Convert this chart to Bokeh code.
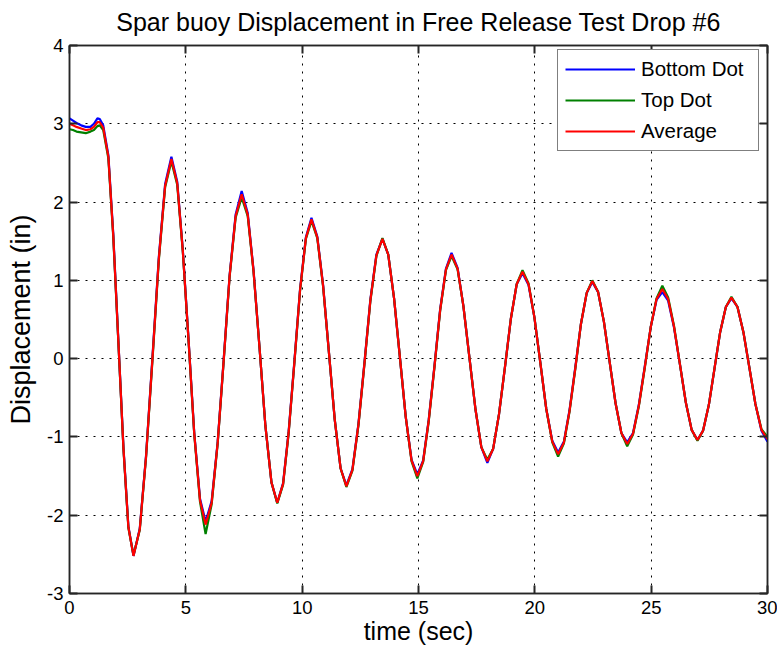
from bokeh.plotting import figure
from bokeh.models import (Range1d, FixedTicker, LinearAxis, Legend, LegendItem,
                          PrintfTickFormatter, CustomLabelingPolicy)
from bokeh.embed import file_html
from bokeh.resources import INLINE

# ---- data ----
time_s = [
    0.0, 0.15, 0.3, 0.5, 0.7, 0.9, 1.05, 1.2, 1.3,
    1.45, 1.67, 1.88, 2.10, 2.32, 2.53,
    2.75, 3.02, 3.29, 3.57, 3.84, 4.11,
    4.38, 4.63, 4.87, 5.12, 5.36, 5.61,
    5.85, 6.11, 6.37, 6.63, 6.88, 7.14,
    7.40, 7.66, 7.91, 8.17, 8.42, 8.68,
    8.93, 9.18, 9.42, 9.67, 9.91, 10.16,
    10.40, 10.65, 10.90, 11.15, 11.40, 11.65,
    11.90, 12.16, 12.42, 12.68, 12.93, 13.19,
    13.45, 13.70, 13.95, 14.20, 14.45, 14.70,
    14.95, 15.20, 15.44, 15.69, 15.93, 16.18,
    16.42, 16.68, 16.93, 17.19, 17.45, 17.70,
    17.96, 18.21, 18.46, 18.72, 18.97, 19.22,
    19.47, 19.73, 19.98, 20.24, 20.49, 20.75,
    21.00, 21.25, 21.49, 21.74, 21.98, 22.23,
    22.47, 22.72, 22.97, 23.22, 23.47, 23.72,
    23.97, 24.22, 24.47, 24.73, 24.98, 25.23,
    25.48, 25.73, 25.98, 26.24, 26.49, 26.74,
    26.99, 27.23, 27.48, 27.72, 27.96, 28.21,
    28.45, 28.71, 28.97, 29.23, 29.48, 29.74,
    30.0,
]

bottom_dot = [
    3.07, 3.04, 3.01, 2.98, 2.96, 2.96, 3.00, 3.07, 3.06,
    2.98, 2.60, 1.60, 0.23, -1.14, -2.14,
    -2.52, -2.17, -1.24, 0.04, 1.30, 2.23,
    2.58, 2.26, 1.39, 0.23, -0.94, -1.79,
    -2.08, -1.82, -1.06, 0.00, 1.06, 1.84,
    2.14, 1.86, 1.13, 0.13, -0.86, -1.58,
    -1.84, -1.59, -0.93, -0.02, 0.89, 1.55,
    1.80, 1.56, 0.94, 0.08, -0.78, -1.40,
    -1.62, -1.41, -0.83, -0.04, 0.75, 1.33,
    1.53, 1.33, 0.77, 0.02, -0.74, -1.29,
    -1.48, -1.30, -0.78, -0.08, 0.63, 1.15,
    1.35, 1.16, 0.67, 0.01, -0.65, -1.13,
    -1.33, -1.15, -0.71, -0.10, 0.51, 0.95,
    1.09, 0.94, 0.53, -0.06, -0.64, -1.05,
    -1.20, -1.06, -0.66, -0.11, 0.44, 0.84,
    0.98, 0.85, 0.47, -0.05, -0.57, -0.95,
    -1.07, -0.95, -0.59, -0.09, 0.40, 0.75,
    0.85, 0.74, 0.40, -0.08, -0.56, -0.91,
    -1.04, -0.92, -0.59, -0.13, 0.33, 0.66,
    0.77, 0.66, 0.33, -0.13, -0.58, -0.92,
    -1.06,
]

top_dot = [
    2.93, 2.92, 2.90, 2.89, 2.88, 2.90, 2.92, 2.97, 2.98,
    2.92, 2.56, 1.56, 0.21, -1.16, -2.16,
    -2.51, -2.19, -1.26, 0.00, 1.26, 2.19,
    2.52, 2.22, 1.37, 0.21, -0.96, -1.83,
    -2.24, -1.86, -1.08, -0.02, 1.04, 1.80,
    2.06, 1.82, 1.11, 0.13, -0.86, -1.58,
    -1.85, -1.61, -0.95, -0.04, 0.87, 1.53,
    1.76, 1.54, 0.92, 0.08, -0.78, -1.40,
    -1.64, -1.43, -0.85, -0.06, 0.73, 1.31,
    1.54, 1.33, 0.77, 0.02, -0.74, -1.31,
    -1.53, -1.32, -0.80, -0.10, 0.61, 1.13,
    1.31, 1.14, 0.67, 0.01, -0.65, -1.13,
    -1.29, -1.15, -0.71, -0.10, 0.51, 0.95,
    1.13, 0.96, 0.53, -0.06, -0.64, -1.07,
    -1.25, -1.08, -0.68, -0.13, 0.44, 0.84,
    1.00, 0.85, 0.47, -0.05, -0.57, -0.95,
    -1.12, -0.97, -0.61, -0.11, 0.40, 0.77,
    0.93, 0.78, 0.42, -0.08, -0.56, -0.91,
    -1.05, -0.92, -0.59, -0.13, 0.33, 0.66,
    0.79, 0.66, 0.33, -0.13, -0.58, -0.90,
    -1.00,
]

average = [
    3.00, 2.98, 2.96, 2.94, 2.92, 2.93, 2.96, 3.02, 3.02,
    2.95, 2.58, 1.58, 0.22, -1.15, -2.15,
    -2.52, -2.18, -1.25, 0.02, 1.28, 2.21,
    2.55, 2.24, 1.38, 0.22, -0.95, -1.81,
    -2.12, -1.84, -1.07, -0.01, 1.05, 1.82,
    2.10, 1.84, 1.12, 0.13, -0.86, -1.58,
    -1.84, -1.60, -0.94, -0.03, 0.88, 1.54,
    1.78, 1.55, 0.93, 0.08, -0.78, -1.40,
    -1.63, -1.42, -0.84, -0.05, 0.74, 1.32,
    1.53, 1.33, 0.77, 0.02, -0.74, -1.30,
    -1.50, -1.31, -0.79, -0.09, 0.62, 1.14,
    1.33, 1.15, 0.67, 0.01, -0.65, -1.13,
    -1.31, -1.15, -0.71, -0.10, 0.51, 0.95,
    1.11, 0.95, 0.53, -0.06, -0.64, -1.06,
    -1.22, -1.07, -0.67, -0.12, 0.44, 0.84,
    0.99, 0.85, 0.47, -0.05, -0.57, -0.95,
    -1.09, -0.96, -0.60, -0.10, 0.40, 0.76,
    0.89, 0.76, 0.41, -0.08, -0.56, -0.91,
    -1.04, -0.92, -0.59, -0.13, 0.33, 0.66,
    0.78, 0.66, 0.33, -0.13, -0.58, -0.91,
    -1.03,
]

x_ticks = [0, 5, 10, 15, 20, 25, 30]
y_ticks = [-3, -2, -1, 0, 1, 2, 3, 4]

FONT = "Liberation Sans"
AX = "#262626"

p = figure(
    width=777, height=656,
    output_backend="svg", toolbar_location=None,
    x_range=Range1d(0, 30), y_range=Range1d(-3, 4),
    title="Spar buoy Displacement in Free Release Test Drop #6",
    x_axis_label="time (sec)", y_axis_label="Displacement (in)",
    min_border_left=69, min_border_right=10, min_border_top=44, min_border_bottom=63,
)
p.background_fill_color = "white"
p.border_fill_color = "white"
p.outline_line_color = AX
p.outline_line_width = 1.5

p.title.align = "center"
p.title.text_font = FONT
p.title.text_font_size = "25px"
p.title.text_font_style = "normal"
p.title.text_color = "black"
p.title.standoff = 11

# extra framing axes (tick marks only) on top and right
top_axis = LinearAxis(ticker=FixedTicker(ticks=x_ticks))
right_axis = LinearAxis(ticker=FixedTicker(ticks=y_ticks))
p.add_layout(top_axis, "above")
p.add_layout(right_axis, "right")

bottom_axis = p.below[0]
left_axis = p.left[0]
bottom_axis.ticker = FixedTicker(ticks=x_ticks)
left_axis.ticker = FixedTicker(ticks=y_ticks)
left_axis.formatter = PrintfTickFormatter(format="%d")

for ax in (bottom_axis, left_axis, top_axis, right_axis):
    ax.axis_line_color = AX
    ax.axis_line_width = 1.5
    ax.major_tick_in = 8
    ax.major_tick_out = 0
    ax.major_tick_line_color = AX
    ax.major_tick_line_width = 2
    ax.minor_tick_line_color = None
    ax.major_label_text_font = FONT
    ax.major_label_text_font_size = "18.5px"
    ax.major_label_text_color = "black"
    ax.axis_label_text_font = FONT
    ax.axis_label_text_font_style = "normal"
    ax.axis_label_text_color = "black"

for ax in (top_axis, right_axis):
    ax.major_label_text_font_size = "1px"
    ax.major_label_standoff = 0
    ax.axis_label = None
    ax.major_label_policy = CustomLabelingPolicy(code="return []")

bottom_axis.major_label_standoff = 7
bottom_axis.axis_label_text_font_size = "25px"
bottom_axis.axis_label_standoff = 0
left_axis.major_label_standoff = 6
left_axis.axis_label_text_font_size = "27px"
left_axis.axis_label_standoff = 8

p.grid.grid_line_color = "black"
p.grid.grid_line_dash = "2 6"
p.grid.grid_line_width = 1

r_b = p.line(time_s, bottom_dot, line_color="#0000FF", line_width=2.2)
r_g = p.line(time_s, top_dot, line_color="#008000", line_width=2.2)
r_a = p.line(time_s, average, line_color="#FF0000", line_width=2.2)

legend = Legend(
    items=[
        LegendItem(label="Bottom Dot", renderers=[r_b]),
        LegendItem(label="Top Dot", renderers=[r_g]),
        LegendItem(label="Average", renderers=[r_a]),
    ],
    location=(488, 442),
    margin=0,
    padding=7,
    spacing=7,
    glyph_width=70,
    glyph_height=20,
    label_height=20,
    label_width=110,
    label_standoff=6,
    label_text_font=FONT,
    label_text_font_size="20.5px",
    label_text_color="black",
    border_line_color="black",
    border_line_width=1,
    background_fill_color="white",
    background_fill_alpha=1.0,
)
p.add_layout(legend)

open("out.html", "w").write(file_html(p, INLINE))
